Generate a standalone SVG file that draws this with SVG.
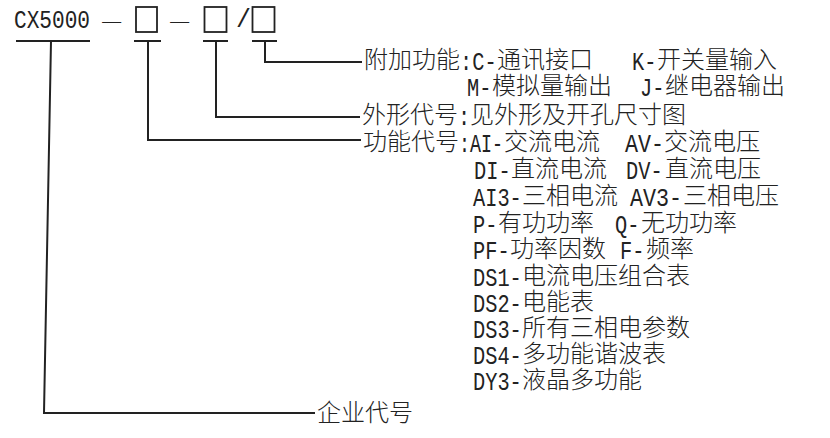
<svg xmlns="http://www.w3.org/2000/svg" width="830" height="438" viewBox="0 0 830 438">
<style>
text{fill:#222}
.c{font-family:"Noto Sans CJK SC","Noto Sans CJK JP",sans-serif;font-size:24px;font-weight:300}
.l{font-family:"Liberation Mono","DejaVu Sans Mono",monospace;font-size:25px}
.ln{fill:none;stroke:#222;stroke-width:2}
.bx{fill:none;stroke:#222;stroke-width:1.8}
</style>
<rect width="830" height="438" fill="#fff"/>
<g id="code">
<text class="l" transform="translate(14 28) scale(0.844 1)">CX5000</text>
<text class="c" x="101" y="29" font-size="22">—</text>
<rect class="bx" x="136" y="7" width="21" height="25"/>
<text class="c" x="169" y="29" font-size="22">—</text>
<rect class="bx" x="204.5" y="7" width="22" height="25"/>
<text class="l" x="236" y="27" font-size="16">/</text>
<rect class="bx" x="252.5" y="7" width="22" height="25"/>
<line class="ln" x1="16" y1="41" x2="90" y2="41"/>
<line class="ln" x1="134" y1="41" x2="161" y2="41"/>
<line class="ln" x1="203" y1="41" x2="228" y2="41"/>
<line class="ln" x1="252" y1="41" x2="277" y2="41"/>
</g>
<g id="connectors">
<path class="ln" d="M51,41 L44,413 L315,413"/>
<path class="ln" d="M148,41 V140 H361"/>
<path class="ln" d="M216,41 V117 H360"/>
<path class="ln" d="M265,41 V62 H362"/>
</g>
<g id="addon">
<text class="c" x="364" y="68">附加功能</text>
<text class="l" transform="translate(460 70) scale(0.813 1)">:C-</text>
<text class="c" x="497" y="68">通讯接口</text>
<text class="l" transform="translate(632 70) scale(0.813 1)">K-</text>
<text class="c" x="657" y="68">开关量输入</text>
<text class="l" transform="translate(467 96) scale(0.813 1)">M-</text>
<text class="c" x="492" y="94">模拟量输出</text>
<text class="l" transform="translate(640 96) scale(0.813 1)">J-</text>
<text class="c" x="665" y="94">继电器输出</text>
</g>
<g id="shape">
<text class="c" x="362" y="123">外形代号</text>
<text class="l" transform="translate(458 125) scale(0.813 1)">:</text>
<text class="c" x="470" y="123">见外形及开孔尺寸图</text>
</g>
<g id="function">
<text class="c" x="363" y="150">功能代号</text>
<text class="l" transform="translate(459 152) scale(0.733 1)">:AI-</text>
<text class="c" x="504" y="150">交流电流</text>
<text class="l" transform="translate(625 152) scale(0.867 1)">AV-</text>
<text class="c" x="664" y="150">交流电压</text>
<text class="l" transform="translate(474 179) scale(0.813 1)">DI-</text>
<text class="c" x="511" y="177">直流电流</text>
<text class="l" transform="translate(626 179) scale(0.813 1)">DV-</text>
<text class="c" x="665" y="177">直流电压</text>
<text class="l" transform="translate(473 206) scale(0.813 1)">AI3-</text>
<text class="c" x="522" y="204">三相电流</text>
<text class="l" transform="translate(630 206) scale(0.867 1)">AV3-</text>
<text class="c" x="683" y="204">三相电压</text>
<text class="l" transform="translate(473 233) scale(0.813 1)">P-</text>
<text class="c" x="498" y="231">有功功率</text>
<text class="l" transform="translate(615 233) scale(0.813 1)">Q-</text>
<text class="c" x="641" y="231">无功功率</text>
<text class="l" transform="translate(473 259) scale(0.813 1)">PF-</text>
<text class="c" x="510" y="257">功率因数</text>
<text class="l" transform="translate(620 259) scale(0.813 1)">F-</text>
<text class="c" x="646" y="257">频率</text>
<text class="l" transform="translate(473 286) scale(0.813 1)">DS1-</text>
<text class="c" x="522" y="284">电流电压组合表</text>
<text class="l" transform="translate(473 312) scale(0.813 1)">DS2-</text>
<text class="c" x="522" y="310">电能表</text>
<text class="l" transform="translate(473 338) scale(0.813 1)">DS3-</text>
<text class="c" x="522" y="336">所有三相电参数</text>
<text class="l" transform="translate(473 364) scale(0.813 1)">DS4-</text>
<text class="c" x="522" y="362">多功能谐波表</text>
<text class="l" transform="translate(473 390) scale(0.813 1)">DY3-</text>
<text class="c" x="522" y="388">液晶多功能</text>
</g>
<g id="company">
<text class="c" x="317" y="421">企业代号</text>
</g>
</svg>
